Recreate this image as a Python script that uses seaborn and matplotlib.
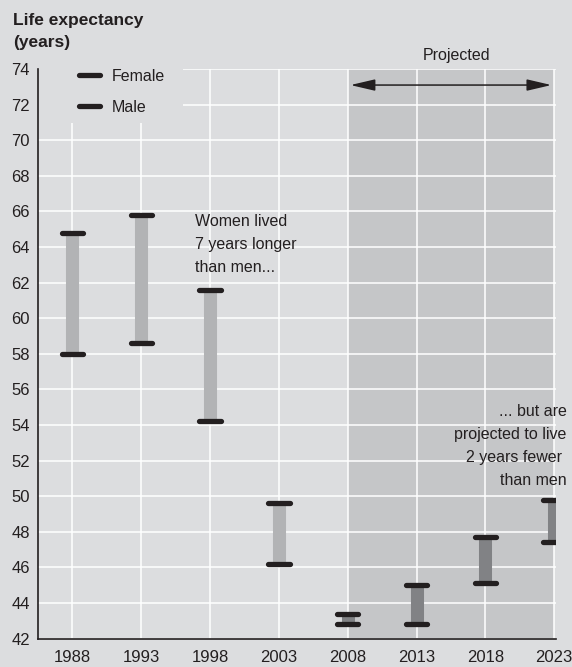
import numpy as np
import pandas as pd
import matplotlib
matplotlib.use("Agg")
import matplotlib.pyplot as plt
from matplotlib.lines import Line2D
from matplotlib.patches import Rectangle
import seaborn as sns

# Data
years = [1988, 1993, 1998, 2003, 2008, 2013, 2018, 2023]
female = [64.8, 65.8, 61.6, 49.6, 42.8, 42.8, 45.1, 47.4]
male = [58.0, 58.6, 54.2, 46.2, 43.4, 45.0, 47.7, 49.8]
projected_from = 2008
y_ticks = list(range(42, 75, 2))

BG = "#dcdddf"
SHADE = "#c5c6c8"
BAR_PAST = "#b2b3b5"
BAR_PROJ = "#818285"
INK = "#231f20"
FS = 11.5

sns.set_theme(style="whitegrid", rc={
    "axes.facecolor": BG,
    "figure.facecolor": BG,
    "grid.color": "white",
    "grid.linewidth": 1.1,
    "axes.edgecolor": INK,
    "axes.linewidth": 1.2,
    "text.color": INK,
    "xtick.color": INK,
    "ytick.color": INK,
})
plt.rcParams["font.family"] = ["Liberation Sans", "DejaVu Sans"]

# long form table for seaborn
df = pd.DataFrame({"year": years, "Female": female, "Male": male})
df = df.melt(id_vars="year", var_name="sex", value_name="value")
df["period"] = np.where(df["year"] >= projected_from, "projected", "past")

fig = plt.figure(figsize=(5.72, 6.67), dpi=100)
ax = fig.add_axes([0.067, 0.0427, 0.9042, 0.8538])

ax.axvspan(projected_from, years[-1], color=SHADE, lw=0, zorder=0.2)

# range bars
sns.lineplot(data=df, x="year", y="value", units="year", estimator=None,
             hue="period", palette={"past": BAR_PAST, "projected": BAR_PROJ},
             lw=9.4, solid_capstyle="butt", sort=False, legend=False,
             ax=ax, zorder=3)

# end caps
ax.hlines(df["value"], df["year"] - 0.78, df["year"] + 0.78,
          colors=INK, lw=3.8, capstyle="round", zorder=4)

ax.set_xlim(1985.52, 2023.1)
ax.set_ylim(42, 74)
ax.set_xticks(years)
ax.set_yticks(y_ticks)
ax.set_xlabel("")
ax.set_ylabel("")
ax.tick_params(axis="both", length=0, labelsize=12)
ax.tick_params(axis="y", pad=6)
ax.tick_params(axis="x", pad=8.5)
for s in ["top", "right"]:
    ax.spines[s].set_visible(False)
ax.set_axisbelow(True)

# patch hiding grid behind the legend
ax.add_patch(Rectangle((0, 0.905), 0.28, 0.1, transform=ax.transAxes,
                       facecolor=BG, edgecolor="none", zorder=0.6, clip_on=False))

handles = [Line2D([], [], color=INK, lw=3.8, solid_capstyle="round"),
           Line2D([], [], color=INK, lw=3.8, solid_capstyle="round")]
ax.legend(handles, ["Female", "Male"], loc="upper left",
          bbox_to_anchor=(0.0793, 1.0), frameon=False, borderpad=0,
          borderaxespad=0, handlelength=1.3, handletextpad=0.72,
          labelspacing=0.98, fontsize=FS)

# projected arrow and label
ax.annotate("", xy=(2022.8, 73.1), xytext=(2008.2, 73.1),
            arrowprops=dict(arrowstyle="<|-|>,head_length=1.5,head_width=0.35",
                            mutation_scale=10, color=INK, lw=1.1,
                            shrinkA=0, shrinkB=0))
ax.text(2015.93, 74.5, "Projected", ha="center", va="baseline",
        fontsize=FS, clip_on=False)

ax.text(1996.94, 65.85, "Women lived\n7 years longer\nthan men...",
        ha="left", va="top", fontsize=FS, linespacing=1.65)
ax.text(2023.92, 55.15, "... but are\nprojected to live\n2 years fewer \nthan men",
        ha="right", va="top", fontsize=FS, linespacing=1.65, clip_on=False)

fig.text(12.7 / 572, 1 - 13 / 667, "Life expectancy\n(years)", ha="left",
         va="top", fontsize=12.5, fontweight="bold", linespacing=1.6)

fig.savefig("out.png", dpi=100, facecolor=BG)
